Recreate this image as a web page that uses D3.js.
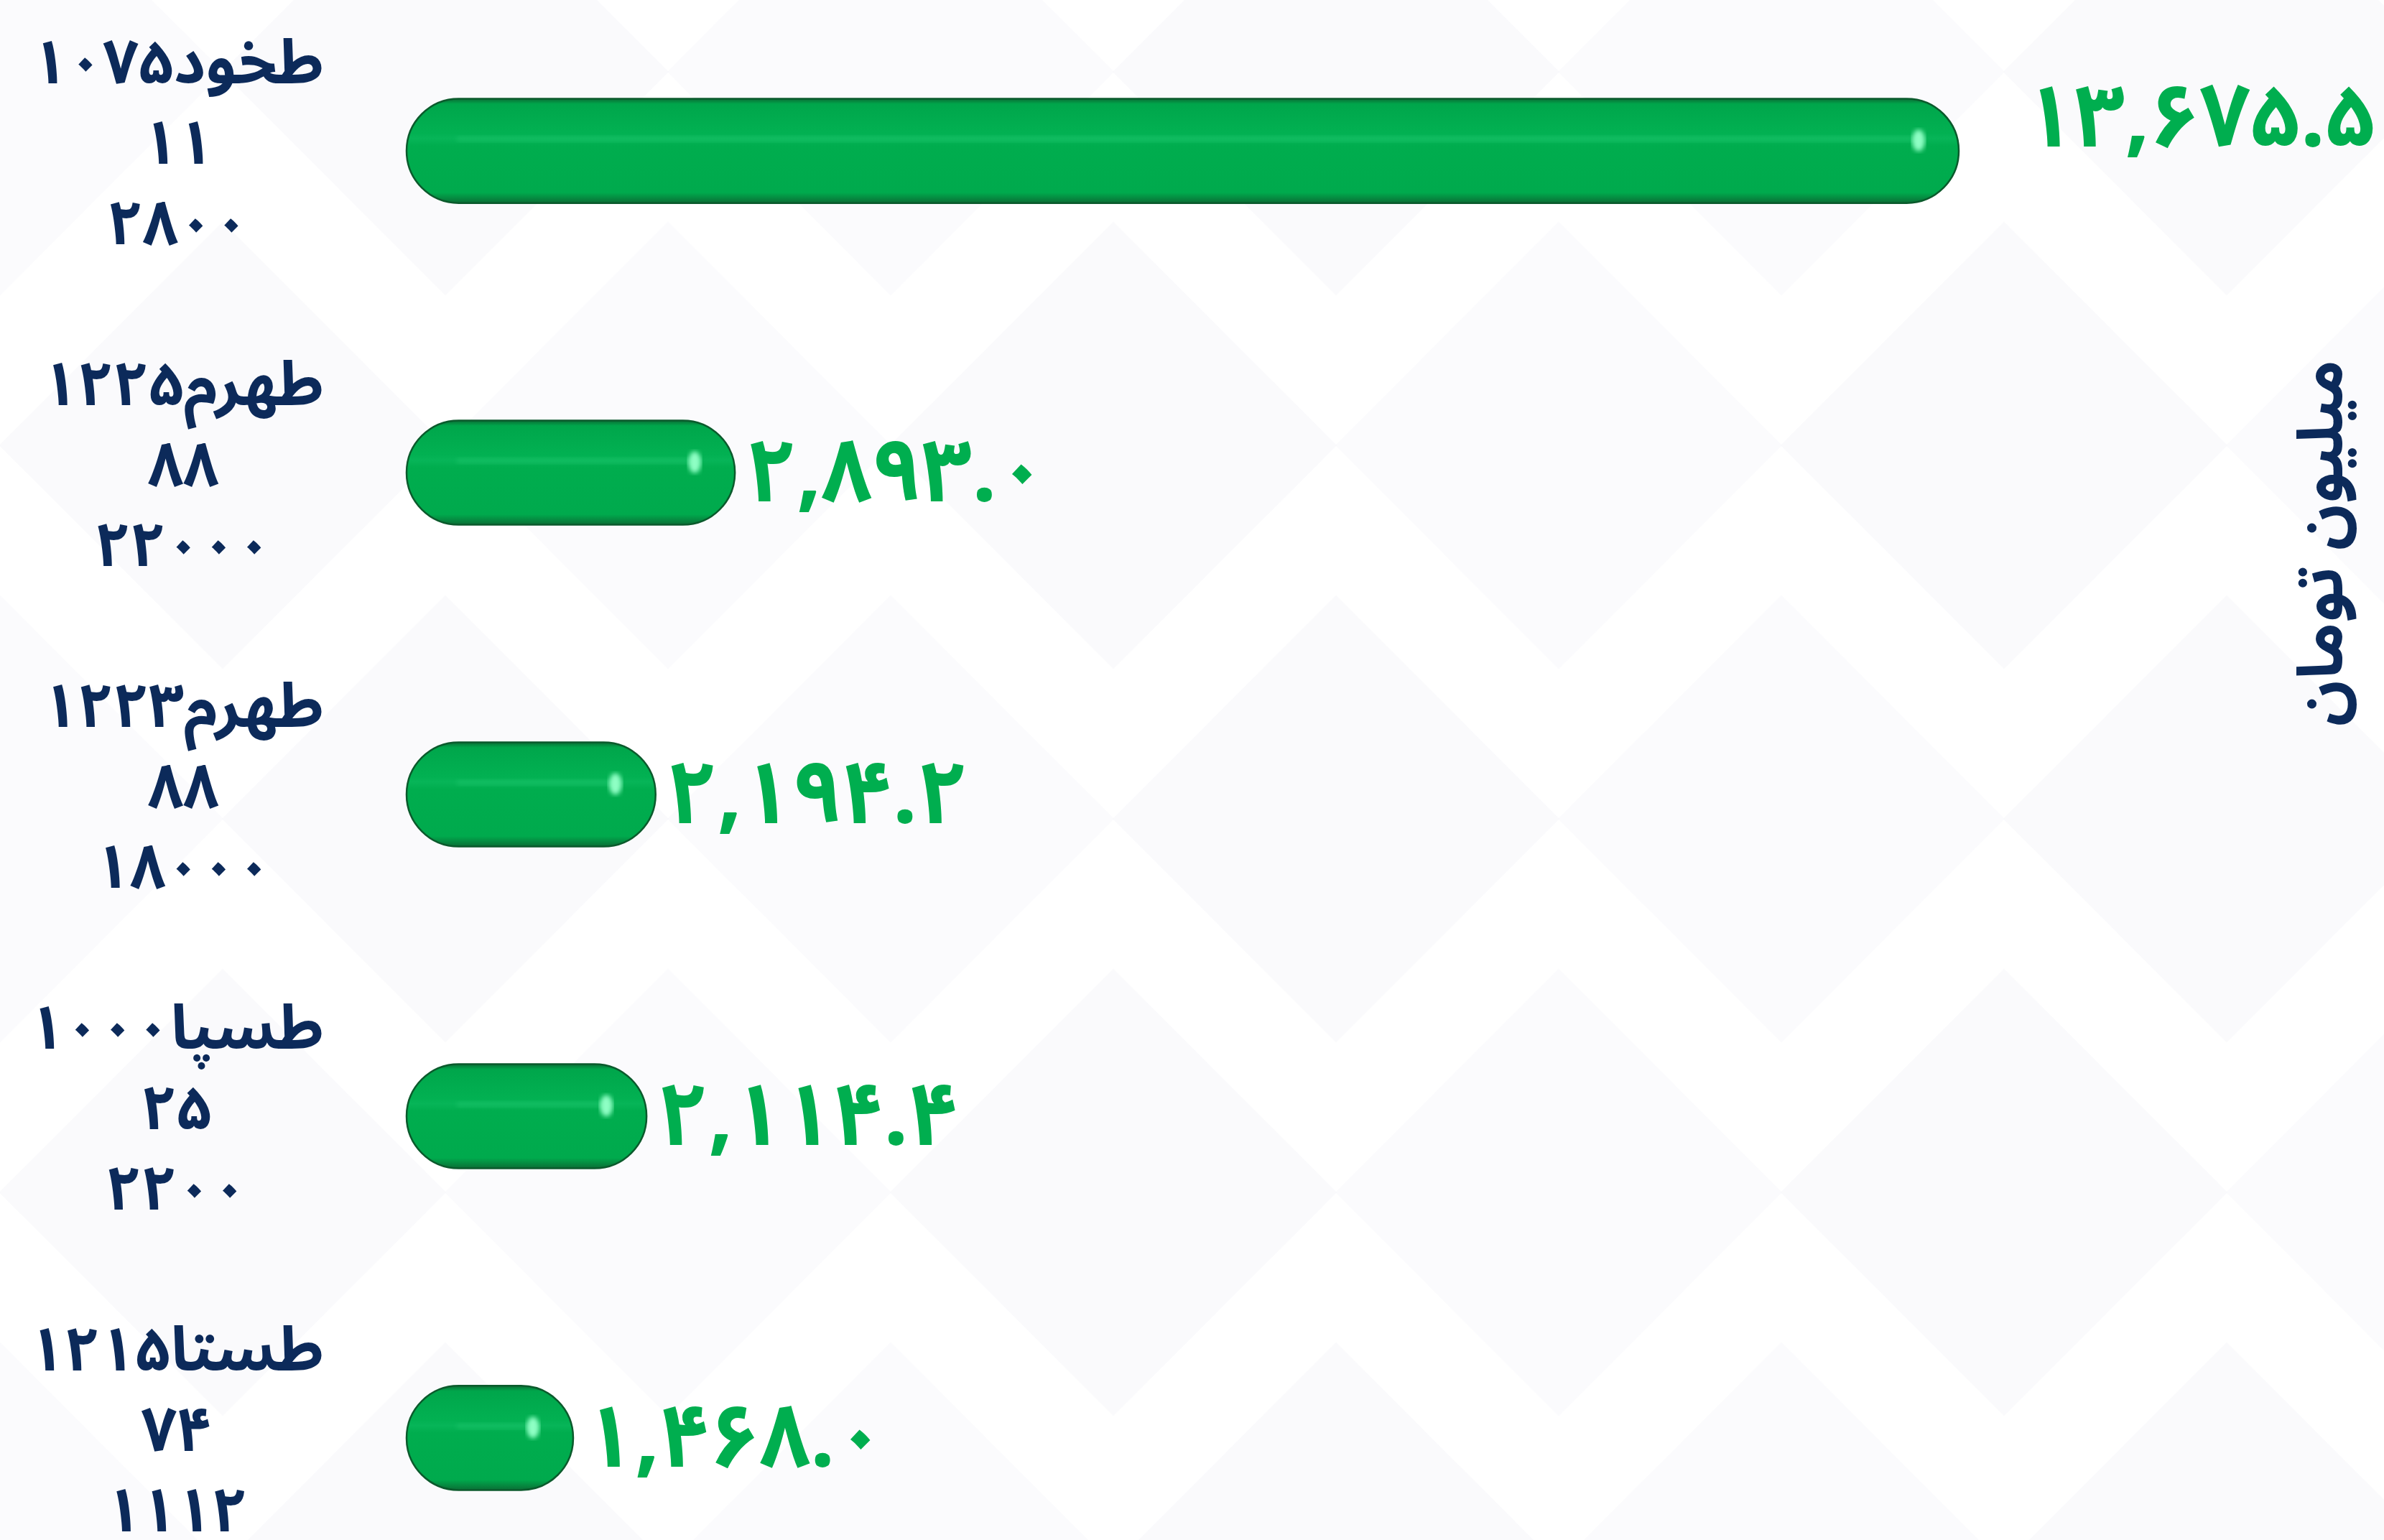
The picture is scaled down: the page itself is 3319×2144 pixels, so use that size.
<!DOCTYPE html>
<html>
<head>
<meta charset="utf-8">
<script src="https://cdn.jsdelivr.net/npm/d3@7"></script>
<style>
  body { margin: 0; background: #fff; }
  svg { display: block; }
</style>
</head>
<body>
<svg></svg>
<script>
var symbols = ["طخود۱۰۷۵", "طهرم۱۲۲۵", "طهرم۱۲۲۳", "طسپا۱۰۰۰", "طستا۱۲۱۵"];
var daysLeft = ["۱۱", "۸۸", "۸۸", "۲۵", "۷۴"];
var strikes = ["۲۸۰۰", "۲۲۰۰۰", "۱۸۰۰۰", "۲۲۰۰", "۱۱۱۲"];
var values = [13675.5, 2893.0, 2194.2, 2114.4, 1468.0];
var unitLabel = "میلیون تومان";

function main() {
  var width = 3319;
  var height = 2144;
  var fontFam = "'Noto Sans Arabic', 'DejaVu Sans', sans-serif";

  var svg = d3.select("svg")
    .attr("width", width)
    .attr("height", height);

  var defs = svg.append("defs");

  var grad = defs.append("linearGradient")
    .attr("id", "barGrad")
    .attr("x1", 0).attr("y1", 0).attr("x2", 0).attr("y2", 1);
  [["0%", "#0a6e35"], ["5%", "#00a64b"], ["33%", "#02b152"], ["38%", "#07b558"],
   ["45%", "#00ad4e"], ["90%", "#00aa4d"], ["100%", "#0a6e35"]].forEach(function(s) {
    grad.append("stop").attr("offset", s[0]).attr("stop-color", s[1]);
  });

  defs.append("filter").attr("id", "soft")
    .append("feGaussianBlur").attr("stdDeviation", 3);

  // faint diamond watermark in background
  var bg = svg.append("g");
  for (var i = -1; i < 7; i++) {
    for (var j = -1; j < 5; j++) {
      var cx = i * 620 + (j % 2 ? 310 : 0);
      var cy = j * 520 + 100;
      bg.append("rect")
        .attr("x", -220).attr("y", -220)
        .attr("width", 440).attr("height", 440)
        .attr("transform", "translate(" + cx + "," + cy + ") rotate(45)")
        .attr("fill", (i + j) % 2 ? "#f3f4f8" : "#f6f7fa")
        .attr("opacity", 0.45);
    }
  }

  var x = d3.scaleLinear()
    .domain([0, d3.max(values)])
    .range([566, 2727]);

  var y = d3.scaleBand()
    .domain(d3.range(values.length))
    .range([137.5, 2074.5])
    .paddingInner(0.676)
    .paddingOuter(0);

  var toFa = function(s) {
    return s.replace(/[0-9]/g, function(c) { return "۰۱۲۳۴۵۶۷۸۹"[+c]; });
  };
  var fmt = d3.format(",.1f");

  var rows = svg.append("g").selectAll(".row")
    .data(values)
    .enter()
    .append("g")
    .attr("class", "row");

  var bh = y.bandwidth();

  rows.append("rect")
    .attr("x", x(0))
    .attr("y", function(d, i) { return y(i); })
    .attr("width", function(d) { return x(d) - x(0); })
    .attr("height", bh)
    .attr("rx", bh / 2)
    .attr("fill", "url(#barGrad)")
    .attr("stroke", "#0b5a2c")
    .attr("stroke-width", 2.5);

  // highlight streak
  rows.append("rect")
    .attr("x", x(0) + 70)
    .attr("y", function(d, i) { return y(i) + bh * 0.36; })
    .attr("width", function(d) { return Math.max(0, x(d) - x(0) - 125); })
    .attr("height", 8)
    .attr("fill", "#2fd07a")
    .attr("opacity", 0.3)
    .attr("filter", "url(#soft)");

  rows.append("ellipse")
    .attr("cx", function(d) { return x(d) - 56; })
    .attr("cy", function(d, i) { return y(i) + bh * 0.4; })
    .attr("rx", 9)
    .attr("ry", 15)
    .attr("fill", "#8effc4")
    .attr("filter", "url(#soft)");

  // value labels
  var labelRight = width - 12;
  rows.append("text")
    .attr("font-family", fontFam)
    .attr("font-weight", "bold")
    .attr("font-size", 122)
    .attr("fill", "#00ae4f")
    .attr("dominant-baseline", "central")
    .text(function(d) { return toFa(fmt(d)); })
    .each(function(d, i) {
      var t = d3.select(this);
      var w = this.getComputedTextLength();
      var cy = y(i) + bh / 2;
      var lx = x(d) + 16;
      if (lx + w > labelRight - 150) {
        t.attr("text-anchor", "end").attr("x", labelRight).attr("y", cy - 46);
      } else {
        t.attr("x", lx).attr("y", cy);
      }
    });

  // category labels (three lines, centered on the widest line, right aligned block)
  var labelEdge = 451;
  var lines = [symbols, daysLeft, strikes];
  rows.each(function(d, i) {
    var g = d3.select(this);
    var cy = y(i) + bh / 2;
    var tx = g.append("text")
      .attr("font-family", fontFam)
      .attr("font-weight", "bold")
      .attr("font-size", 86)
      .attr("fill", "#0c2a5a")
      .attr("text-anchor", "middle");
    lines.forEach(function(arr, k) {
      tx.append("tspan")
        .attr("y", cy - 94 + k * 112)
        .text(arr[i]);
    });
    var maxW = 0;
    tx.selectAll("tspan").each(function() {
      maxW = Math.max(maxW, this.getComputedTextLength());
    });
    tx.selectAll("tspan").attr("x", labelEdge - maxW / 2);
  });

  // unit title on the right
  svg.append("text")
    .attr("transform", "translate(3233,756) rotate(-90)")
    .attr("font-family", fontFam)
    .attr("font-weight", "bold")
    .attr("font-size", 88)
    .attr("fill", "#0c2a5a")
    .attr("text-anchor", "middle")
    .attr("dominant-baseline", "central")
    .text(unitLabel);
}

main();
</script>
</body>
</html>
